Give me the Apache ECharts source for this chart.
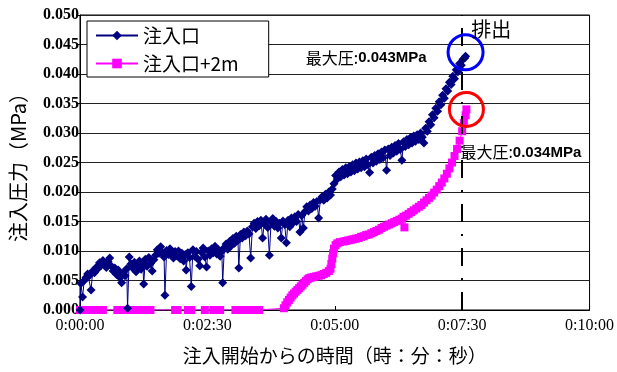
<!DOCTYPE html>
<html>
<head>
<meta charset="utf-8">
<script src="https://cdn.jsdelivr.net/npm/echarts@6/dist/echarts.min.js"></script>
<style>
  html, body { margin: 0; padding: 0; background: #fff; }
  #chart { width: 617px; height: 372px; }
</style>
</head>
<body>
<div id="chart"></div>
<script>
// Injection pressure at the inlet, elapsed seconds / MPa
const inletTime = [
  0, 1, 3, 5, 7, 9, 11, 13, 15, 17, 19, 21, 23, 25, 27, 29, 31, 33, 35, 37,
  39, 41, 43, 45, 47, 49, 51, 53, 55, 56, 58, 60, 62, 64, 66, 68, 70, 72, 74, 75,
  77, 79, 81, 83, 85, 87, 89, 91, 93, 95, 97, 99, 100, 102, 104, 106, 108, 110, 112, 114,
  116, 118, 120, 122, 124, 125, 127, 129, 131, 133, 135, 137, 139, 141, 143, 145, 147, 149, 151, 153,
  155, 157, 159, 161, 163, 165, 167, 168, 170, 172, 174, 176, 178, 180, 182, 184, 186, 187, 189, 191,
  193, 195, 197, 199, 201, 203, 205, 207, 209, 211, 213, 215, 217, 219, 221, 223, 225, 227, 229, 231,
  233, 235, 237, 239, 241, 243, 245, 247, 249, 251, 253, 255, 257, 259, 261, 263, 265, 267, 269, 271,
  273, 275, 277, 279, 281, 283, 285, 287, 289, 291, 293, 295, 297, 299, 301, 303, 305, 307, 309, 311,
  313, 315, 317, 319, 321, 323, 325, 327, 329, 331, 333, 335, 337, 339, 341, 343, 345, 347, 349, 351,
  353, 355, 357, 359, 361, 363, 365, 367, 369, 371, 373, 375, 377, 379, 381, 383, 385, 387, 389, 391,
  393, 395, 397, 399, 401, 403, 405, 407, 409, 411, 413, 415, 417, 419, 421, 423, 425, 427, 429, 431,
  433, 435, 437, 439, 441, 443, 445, 447, 449, 451, 453, 454
];
const inletPress = [
  0.0000, 0.0045, 0.0022, 0.0050, 0.0055, 0.0061, 0.0058, 0.0034, 0.0066, 0.0063, 0.0072, 0.0070, 0.0080, 0.0076, 0.0084, 0.0078, 0.0072, 0.0082, 0.0088, 0.0074,
  0.0066, 0.0071, 0.0060, 0.0068, 0.0055, 0.0046, 0.0063, 0.0058, 0.0070, 0.0003, 0.0090, 0.0078, 0.0071, 0.0081, 0.0065, 0.0076, 0.0083, 0.0069, 0.0078, 0.0044,
  0.0086, 0.0074, 0.0089, 0.0079, 0.0066, 0.0085, 0.0093, 0.0102, 0.0096, 0.0107, 0.0098, 0.0090, 0.0025, 0.0101, 0.0094, 0.0104, 0.0095, 0.0088, 0.0099, 0.0092,
  0.0100, 0.0087, 0.0096, 0.0083, 0.0094, 0.0068, 0.0097, 0.0089, 0.0040, 0.0102, 0.0091, 0.0099, 0.0086, 0.0075, 0.0098, 0.0105, 0.0090, 0.0073, 0.0100, 0.0093,
  0.0104, 0.0097, 0.0108, 0.0095, 0.0102, 0.0091, 0.0099, 0.0046, 0.0106, 0.0112, 0.0103, 0.0116, 0.0109, 0.0121, 0.0113, 0.0125, 0.0118, 0.0071, 0.0128, 0.0122,
  0.0132, 0.0126, 0.0134, 0.0129, 0.0088, 0.0141, 0.0147, 0.0138, 0.0150, 0.0143, 0.0152, 0.0122, 0.0146, 0.0154, 0.0140, 0.0093, 0.0149, 0.0155, 0.0142, 0.0150,
  0.0139, 0.0147, 0.0122, 0.0151, 0.0145, 0.0114, 0.0152, 0.0141, 0.0156, 0.0148, 0.0158, 0.0150, 0.0162, 0.0132, 0.0160, 0.0139, 0.0167, 0.0175, 0.0168, 0.0178,
  0.0172, 0.0182, 0.0176, 0.0184, 0.0156, 0.0187, 0.0192, 0.0186, 0.0196, 0.0190, 0.0200, 0.0195, 0.0205, 0.0214, 0.0228, 0.0222, 0.0234, 0.0226, 0.0238, 0.0229,
  0.0241, 0.0231, 0.0243, 0.0234, 0.0246, 0.0236, 0.0249, 0.0239, 0.0251, 0.0241, 0.0253, 0.0243, 0.0256, 0.0246, 0.0233, 0.0259, 0.0249, 0.0262, 0.0252, 0.0265,
  0.0255, 0.0268, 0.0258, 0.0271, 0.0237, 0.0273, 0.0262, 0.0276, 0.0266, 0.0279, 0.0269, 0.0282, 0.0272, 0.0254, 0.0285, 0.0277, 0.0289, 0.0280, 0.0292, 0.0283,
  0.0295, 0.0286, 0.0297, 0.0289, 0.0300, 0.0293, 0.0283, 0.0308, 0.0303, 0.0319, 0.0314, 0.0331, 0.0326, 0.0342, 0.0337, 0.0353, 0.0348, 0.0364, 0.0359, 0.0375,
  0.0371, 0.0386, 0.0382, 0.0396, 0.0392, 0.0407, 0.0404, 0.0418, 0.0415, 0.0425, 0.0427, 0.0430
];

// Injection pressure 2 m from the inlet
const plus2mTime = [
  0, 3, 6, 9, 12, 15, 18, 21, 24, 27,
  44, 47, 50, 53, 56, 59, 62, 65, 68, 71, 74, 77, 80, 83,
  112, 115, 127, 131, 147, 157, 161, 165,
  183, 187, 191, 195, 199, 203, 207, 211,
  240, 242, 244, 246, 248, 250, 252, 254, 256, 258, 260, 262, 264, 266, 268, 270, 272, 275, 278, 281,
  284, 287, 290, 293, 295, 296, 297, 298, 299, 301, 303, 306, 310, 313, 316, 319, 322, 325, 328, 331,
  334, 337, 340, 343, 346, 349, 352, 355, 358, 361, 364, 367, 370, 373, 376, 379, 381, 382, 384, 387,
  390, 393, 396, 399, 402, 405, 408, 411, 414, 417, 420, 423, 426, 429, 432, 435, 438, 441, 444, 447,
  450, 452, 454, 455
];
const plus2mPress = [
  0, 0, 0, 0, 0, 0, 0, 0, 0, 0,
  0, 0, 0, 0, 0, 0, 0, 0, 0, 0, 0, 0, 0, 0,
  0, 0, 0, 0, 0, 0, 0, 0,
  0, 0, 0, 0, 0, 0, 0, 0,
  0.0003, 0.0008, 0.0013, 0.0017, 0.0021, 0.0025, 0.0028, 0.0031, 0.0034, 0.0037, 0.0040, 0.0043, 0.0046, 0.0049, 0.0052, 0.0054, 0.0055, 0.0056, 0.0057, 0.0058,
  0.0059, 0.0061, 0.0063, 0.0066, 0.0070, 0.0078, 0.0087, 0.0096, 0.0104, 0.0110, 0.0113, 0.0115, 0.0116, 0.0117, 0.0118, 0.0119, 0.0120, 0.0121, 0.0122, 0.0124,
  0.0125, 0.0127, 0.0128, 0.0130, 0.0132, 0.0134, 0.0136, 0.0139, 0.0141, 0.0143, 0.0145, 0.0147, 0.0149, 0.0151, 0.0153, 0.0155, 0.0158, 0.0140, 0.0160, 0.0163,
  0.0166, 0.0169, 0.0172, 0.0175, 0.0178, 0.0182, 0.0186, 0.0190, 0.0194, 0.0199, 0.0204, 0.0210, 0.0216, 0.0223, 0.0231, 0.0240, 0.0250, 0.0261, 0.0273, 0.0287,
  0.0303, 0.0317, 0.0330, 0.0340
];

const seriesNames = ['注入口', '注入口+2m'];
const xTickLabels = ['0:00:00', '0:02:30', '0:05:00', '0:07:30', '0:10:00'];
const yTickLabels = ['0.000', '0.005', '0.010', '0.015', '0.020', '0.025', '0.030', '0.035', '0.040', '0.045', '0.050'];
const ventTime = 450;          // discharge moment
const ventText = '排出';
const xTitle = '注入開始からの時間（時：分：秒）';
const yTitle = '注入圧力（MPa）';

const CJK = '"Noto Sans CJK JP", "Noto Sans", sans-serif';
const SERIF = '"Liberation Serif", "Times New Roman", serif';

function pairs(ts, vs) { return ts.map((t, i) => [t, vs[i]]); }
function peakIndex(vs) { let k = 0; vs.forEach((v, i) => { if (v > vs[k]) k = i; }); return k; }

const inletPeak = peakIndex(inletPress);
const plus2mPeak = peakIndex(plus2mPress);
const inletPeakPt = [inletTime[inletPeak], inletPress[inletPeak]];
const plus2mPeakPt = [plus2mTime[plus2mPeak], plus2mPress[plus2mPeak]];

function peakLabel(v) { return '{a|最大圧:}{b|' + v.toFixed(3) + 'MPa}'; }
const peakRich = {
  a: { fontFamily: CJK, fontSize: 16, color: '#000' },
  b: { fontFamily: '"Liberation Sans", Arial, sans-serif', fontSize: 15, fontWeight: 'bold', color: '#000' }
};

const chart = echarts.init(document.getElementById('chart'), null, { renderer: 'canvas' });

chart.setOption({
  animation: false,
  backgroundColor: '#fff',
  grid: { left: 76, right: 24, top: 15, bottom: 62, show: true, borderColor: '#000', borderWidth: 1 },
  legend: {
    orient: 'vertical',
    left: 87, top: 21,
    padding: [5, 30, 4, 8],
    itemGap: 9,
    itemWidth: 42, itemHeight: 12,
    backgroundColor: '#fff',
    borderColor: '#000', borderWidth: 1,
    textStyle: { fontFamily: CJK, fontSize: 19, color: '#000' },
    data: seriesNames
  },
  xAxis: {
    type: 'value', min: 0, max: 600, interval: 150,
    name: xTitle, nameLocation: 'middle', nameGap: 36,
    nameTextStyle: { fontFamily: CJK, fontSize: 19, color: '#000' },
    axisLine: { lineStyle: { color: '#000', width: 1 } },
    axisTick: { inside: true, length: 4, lineStyle: { color: '#000' } },
    axisLabel: { margin: 8, fontFamily: SERIF, fontSize: 16, color: '#000',
      formatter: v => xTickLabels[Math.round(v / 150)] },
    splitLine: { show: false }
  },
  yAxis: {
    type: 'value', min: 0, max: 0.05, interval: 0.005,
    name: yTitle, nameLocation: 'middle', nameGap: 52, nameRotate: 90,
    nameTextStyle: { fontFamily: CJK, fontSize: 20, color: '#000' },
    axisLine: { show: true, lineStyle: { color: '#000', width: 1 } },
    axisTick: { show: true, inside: false, length: 4, lineStyle: { color: '#000' } },
    axisLabel: { margin: 1, fontFamily: SERIF, fontSize: 16, fontWeight: 'bold', color: '#000',
      formatter: v => yTickLabels[Math.round(v / 0.005)] },
    splitLine: { show: true, lineStyle: { color: '#222', width: 1 } }
  },
  series: [
    {
      name: seriesNames[1],
      type: 'line',
      data: pairs(plus2mTime, plus2mPress),
      symbol: 'rect', symbolSize: 8, showAllSymbol: true,
      itemStyle: { color: '#ff00ff' },
      lineStyle: { color: '#ff00ff', width: 1 },
      z: 2,
      markPoint: {
        z: 10,
        data: [
          { coord: plus2mPeakPt, symbol: 'circle', symbolSize: 34,
            itemStyle: { color: 'rgba(0,0,0,0)', borderColor: '#ff0000', borderWidth: 3 },
            label: { show: false } },
          { coord: plus2mPeakPt, symbol: 'circle', symbolSize: 1,
            itemStyle: { color: 'rgba(0,0,0,0)' },
            label: { show: true, position: 'inside', align: 'left', offset: [-6, 43],
              formatter: peakLabel(plus2mPeakPt[1]), rich: peakRich } }
        ]
      }
    },
    {
      name: seriesNames[0],
      type: 'line',
      data: pairs(inletTime, inletPress),
      symbol: 'diamond', symbolSize: 9, showAllSymbol: true,
      itemStyle: { color: '#000080' },
      lineStyle: { color: '#000080', width: 1 },
      z: 3,
      markLine: {
        silent: true, symbol: 'none',
        lineStyle: { color: '#000', width: 2, type: [18, 12, 2, 12] },
        label: { show: false },
        data: [{ xAxis: ventTime }]
      },
      markPoint: {
        z: 10,
        data: [
          { coord: inletPeakPt, symbol: 'circle', symbolSize: 35, symbolOffset: [0, -4],
            itemStyle: { color: 'rgba(0,0,0,0)', borderColor: '#0000ff', borderWidth: 3 },
            label: { show: false } },
          { coord: inletPeakPt, symbol: 'circle', symbolSize: 1,
            itemStyle: { color: 'rgba(0,0,0,0)' },
            label: { show: true, position: 'inside', align: 'right', offset: [-39, 2],
              formatter: peakLabel(inletPeakPt[1]), rich: peakRich } },
          { coord: [ventTime, 0.05], symbol: 'circle', symbolSize: 1,
            itemStyle: { color: 'rgba(0,0,0,0)' },
            label: { show: true, position: 'inside', align: 'left', offset: [9, 14],
              formatter: ventText, fontFamily: CJK, fontSize: 20, color: '#000' } }
        ]
      }
    }
  ]
});
</script>
</body>
</html>
